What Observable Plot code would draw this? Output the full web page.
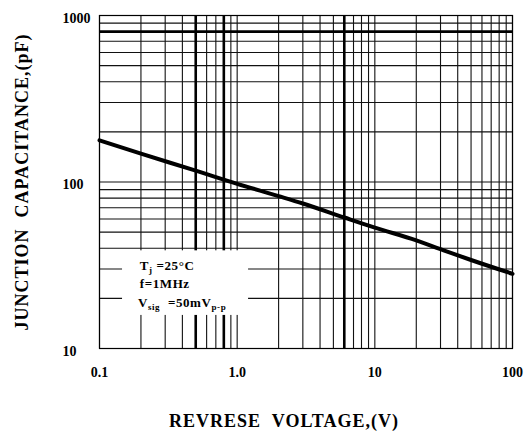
<!DOCTYPE html>
<html>
<head>
<meta charset="utf-8">
<script src="https://cdn.jsdelivr.net/npm/d3@7"></script>
<script src="https://cdn.jsdelivr.net/npm/@observablehq/plot@0.6"></script>
<style>
  html, body { margin: 0; padding: 0; background: #fff; }
  #chart svg { display: block; }
</style>
</head>
<body>
<div id="chart"></div>
<script>
// Reverse voltage (V) and junction capacitance (pF)
const voltage = [0.1, 0.2, 0.5, 1, 2, 3, 6, 10, 20, 30, 50, 100];
const capacitance = [178, 148, 117, 97.5, 82.3, 74.3, 61.2, 53.2, 44.6, 39.5, 34, 28.1];

// Axis ticks and labels
const xTicks = [0.1, 1, 10, 100];
const xTickLabels = ["0.1", "1.0", "10", "100"];
const yTicks = [10, 100, 1000];
const yTickLabels = ["10", "100", "1000"];

// Log grid: mantissas within each decade
const mantissas = [1, 2, 3, 4, 5, 6, 7, 8, 9];
const xDecades = [0.1, 1, 10];
const yDecades = [10, 100];
const thickX = [0.5, 0.8, 6];
const thickY = [800];

// Conditions box (blank area in the grid) and its text
const boxX = [0.147, 1.21];
const boxY = [15.8, 38.6];
const legendX = [0.196, 0.196, 0.19];
const legendY = [31.4, 24.6, 18.7];
const legendParts = [
  [["T", false], ["j", true], [" =25°C", false]],
  [["f=1MHz", false]],
  [["V", false], ["sig", true], ["  =50mV", false], ["p-p", true]]
];

const xLabel = "REVRESE  VOLTAGE,(V)";
const yLabel = "JUNCTION  CAPACITANCE,(pF)";

const data = voltage.map((v, i) => ({v, c: capacitance[i]}));
const gridX = xDecades.flatMap(d => mantissas.map(m => +(d * m).toPrecision(3))).concat([100]);
const gridY = yDecades.flatMap(d => mantissas.map(m => +(d * m).toPrecision(3))).concat([1000]);
const legendData = legendParts.map((p, i) => ({x: legendX[i], y: legendY[i], t: p.map(s => s[0]).join("")}));

const serif = "'Liberation Serif', 'DejaVu Serif', serif";

const chart = Plot.plot({
  width: 527,
  height: 431,
  marginLeft: 99,
  marginRight: 15,
  marginTop: 15,
  marginBottom: 83,
  x: {type: "log", domain: [0.1, 100]},
  y: {type: "log", domain: [10, 1000]},
  style: {background: "#fff", color: "#000"},
  marks: [
    Plot.ruleX(gridX, {y1: 10, y2: 1000, stroke: "#111", strokeWidth: 1.1}),
    Plot.ruleY(gridY, {x1: 0.1, x2: 100, stroke: "#111", strokeWidth: 1.1}),
    Plot.ruleX(thickX, {y1: 10, y2: 1000, stroke: "#000", strokeWidth: 2.6}),
    Plot.ruleY(thickY, {x1: 0.1, x2: 100, stroke: "#000", strokeWidth: 2.6}),
    Plot.rect([0], {x1: boxX[0], x2: boxX[1], y1: boxY[0], y2: boxY[1], fill: "#fff"}),
    Plot.frame({stroke: "#000", strokeWidth: 1.2}),
    Plot.line(data, {x: "v", y: "c", stroke: "#000", strokeWidth: 4, curve: "monotone-x"}),
    Plot.text(legendData, {x: "x", y: "y", text: "t", textAnchor: "start", fontSize: 13, fontWeight: "bold", fontFamily: serif, fill: "#000", className: "cond"}),
    Plot.axisX(xTicks, {tickSize: 0, tickPadding: 19, label: null, tickFormat: d => xTickLabels[xTicks.indexOf(d)], fontSize: 14, fontWeight: "bold", fontFamily: serif}),
    Plot.axisY(yTicks, {tickSize: 0, tickPadding: 37, textAnchor: "start", dy: 3, label: null, tickFormat: d => yTickLabels[yTicks.indexOf(d)], fontSize: 14, fontWeight: "bold", fontFamily: serif}),
    Plot.text([yLabel], {frameAnchor: "left", textAnchor: "middle", lineAnchor: "middle", dx: -77, rotate: -90, fontSize: 18, fontFamily: serif, fontWeight: "bold", fill: "#000", className: "ttl"}),
    Plot.text([xLabel], {frameAnchor: "bottom", textAnchor: "middle", lineAnchor: "middle", dx: -22, dy: 73, fontSize: 18, fontFamily: serif, fontWeight: "bold", fill: "#000", className: "ttl"})
  ]
});

// keep double spaces, letter spacing of the titles and conditions, subscripts in the conditions text
d3.select(chart).selectAll("text").style("white-space", "pre");
d3.select(chart).selectAll(".ttl text").attr("letter-spacing", 1);
d3.select(chart).selectAll(".cond text").attr("letter-spacing", 0.6).each(function(d, i) {
  const el = d3.select(this);
  el.text(null);
  const parts = legendParts[i];
  parts.forEach(([s, sub], j) => {
    const ts = el.append("tspan").text(s);
    if (sub) ts.attr("font-size", 9).attr("dy", 3);
    else if (j > 0 && parts[j - 1][1]) ts.attr("dy", -3);
  });
});

document.getElementById("chart").appendChild(chart);
</script>
</body>
</html>
